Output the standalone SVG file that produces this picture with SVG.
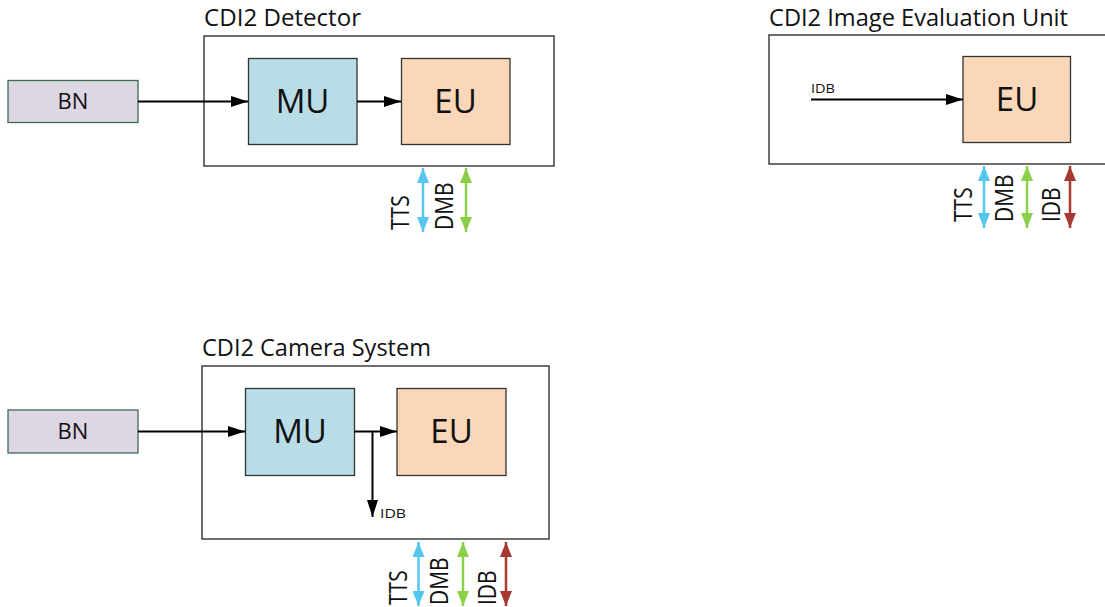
<svg xmlns="http://www.w3.org/2000/svg" width="1105" height="607" viewBox="0 0 1105 607">
<style>
text{font-family:"Open Sans","Liberation Sans",sans-serif;fill:#111}
.title{font-size:23px}
.frame{fill:#fff;stroke:#222;stroke-width:1.3}
.bn{fill:#ddd6e3;stroke:#3d6b4f;stroke-width:1.3}
.mu{fill:#b8dde7;stroke:#333;stroke-width:1.3}
.eu{fill:#fad7b9;stroke:#333;stroke-width:1.3}
.big{font-size:33px;text-anchor:middle}
.bnl{font-size:22px;text-anchor:middle}
.small{font-size:13px}
.rot{font-size:21px}
.blk{stroke:#000;stroke-width:2;fill:none;marker-end:url(#ah)}
.tts{stroke:#55c6ee;stroke-width:2.5;marker-start:url(#at);marker-end:url(#at)}
.dmb{stroke:#8cd04a;stroke-width:2.5;marker-start:url(#ad);marker-end:url(#ad)}
.idb{stroke:#a63a30;stroke-width:2.5;marker-start:url(#ai);marker-end:url(#ai)}
</style>
<defs>
<marker id="ah" markerUnits="userSpaceOnUse" markerWidth="17" markerHeight="11" refX="17" refY="5.5" orient="auto"><path d="M0,0 L17,5.5 L0,11 z" fill="#000"/></marker>
<marker id="at" markerUnits="userSpaceOnUse" markerWidth="15" markerHeight="12" refX="15" refY="6" orient="auto-start-reverse"><path d="M0,0 L15,6 L0,12 z" fill="#55c6ee"/></marker>
<marker id="ad" markerUnits="userSpaceOnUse" markerWidth="15" markerHeight="12" refX="15" refY="6" orient="auto-start-reverse"><path d="M0,0 L15,6 L0,12 z" fill="#8cd04a"/></marker>
<marker id="ai" markerUnits="userSpaceOnUse" markerWidth="15" markerHeight="12" refX="15" refY="6" orient="auto-start-reverse"><path d="M0,0 L15,6 L0,12 z" fill="#a63a30"/></marker>
</defs>
<rect width="1105" height="607" fill="#fff"/>

<!-- Panel 1: CDI2 Detector -->
<g id="detector">
<text class="title" x="204" y="26" textLength="157" lengthAdjust="spacingAndGlyphs">CDI2 Detector</text>
<rect class="frame" x="204" y="36" width="350" height="130"/>
</g>
<g id="bn1"><rect class="bn" x="8" y="80.5" width="130" height="42"/><text class="bnl" x="73" y="109">BN</text></g>
<g id="mu1"><rect class="mu" x="248.5" y="58.5" width="108.5" height="86"/><text class="big" x="302.5" y="113">MU</text></g>
<g id="eu1"><rect class="eu" x="401.5" y="58.5" width="108.5" height="86"/><text class="big" x="455.5" y="113">EU</text></g>

<!-- Panel 2: CDI2 Image Evaluation Unit -->
<g id="ieu">
<text class="title" x="769" y="26" textLength="299" lengthAdjust="spacingAndGlyphs">CDI2 Image Evaluation Unit</text>
<rect class="frame" x="769" y="35" width="340" height="129"/>
</g>
<g id="eu2"><rect class="eu" x="963" y="56.5" width="107.5" height="86"/><text class="big" x="1017" y="111">EU</text></g>

<!-- Panel 3: CDI2 Camera System -->
<g id="camera">
<text class="title" x="202" y="356" textLength="229" lengthAdjust="spacingAndGlyphs">CDI2 Camera System</text>
<rect class="frame" x="202" y="366" width="347" height="173"/>
</g>
<g id="bn3"><rect class="bn" x="8" y="410" width="130" height="43"/><text class="bnl" x="73" y="439">BN</text></g>
<g id="mu3"><rect class="mu" x="245.5" y="388.5" width="109" height="87"/><text class="big" x="300" y="443">MU</text></g>
<g id="eu3"><rect class="eu" x="397" y="388.5" width="109" height="87"/><text class="big" x="451.5" y="443">EU</text></g>

<g id="connectors">
<line class="blk" x1="138" y1="101.5" x2="248" y2="101.5"/>
<line class="blk" x1="357" y1="101.5" x2="401" y2="101.5"/>
<line class="blk" x1="811" y1="99.5" x2="963" y2="99.5"/>
<text class="small" x="811" y="93" textLength="24" lengthAdjust="spacingAndGlyphs">IDB</text>
<line class="blk" x1="138" y1="431.5" x2="245" y2="431.5"/>
<line class="blk" x1="354.5" y1="431.5" x2="397" y2="431.5"/>
<line class="blk" x1="372.5" y1="431.5" x2="372.5" y2="517"/>
<text class="small" x="380" y="518" textLength="26" lengthAdjust="spacingAndGlyphs">IDB</text>

<line class="tts" x1="423" y1="168" x2="423" y2="232"/>
<line class="dmb" x1="466" y1="168" x2="466" y2="232"/>
<text class="rot" transform="translate(409,230) scale(1.2,1) rotate(-90)">TTS</text>
<text class="rot" transform="translate(453,230) scale(1.2,1) rotate(-90)">DMB</text>

<line class="tts" x1="984" y1="166" x2="984" y2="228"/>
<line class="dmb" x1="1027" y1="166" x2="1027" y2="228"/>
<line class="idb" x1="1070" y1="166" x2="1070" y2="228"/>
<text class="rot" transform="translate(972,222) scale(1.2,1) rotate(-90)">TTS</text>
<text class="rot" transform="translate(1013,222) scale(1.2,1) rotate(-90)">DMB</text>
<text class="rot" transform="translate(1060,222) scale(1.2,1) rotate(-90)">IDB</text>

<line class="tts" x1="418.5" y1="542" x2="418.5" y2="606"/>
<line class="dmb" x1="463" y1="542" x2="463" y2="606"/>
<line class="idb" x1="506" y1="542" x2="506" y2="606"/>
<text class="rot" transform="translate(407,605) scale(1.2,1) rotate(-90)">TTS</text>
<text class="rot" transform="translate(448,605) scale(1.2,1) rotate(-90)">DMB</text>
<text class="rot" transform="translate(496,605) scale(1.2,1) rotate(-90)">IDB</text>
</g>
</svg>
